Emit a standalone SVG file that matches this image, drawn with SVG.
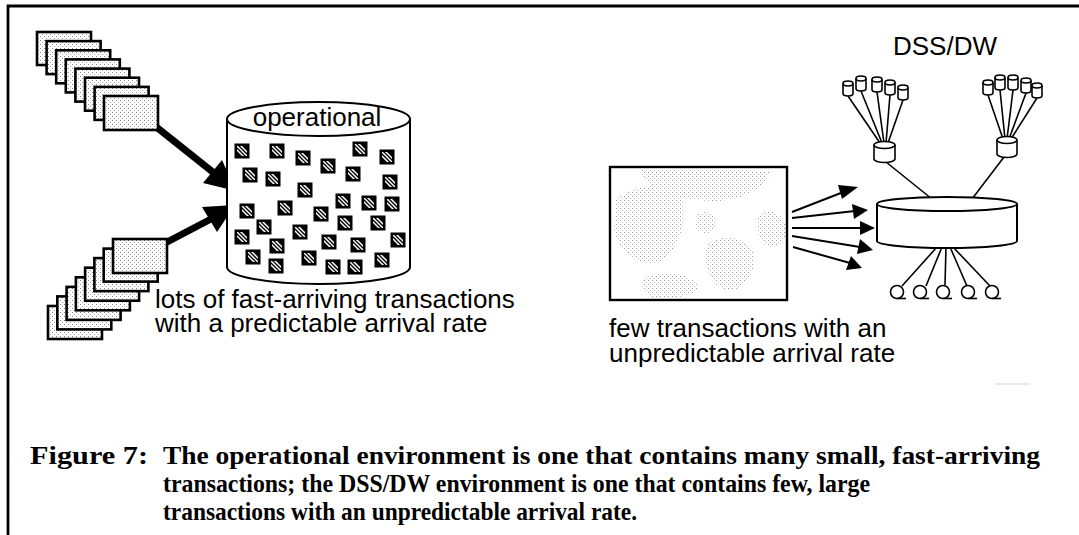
<svg xmlns="http://www.w3.org/2000/svg" width="1079" height="535" viewBox="0 0 1079 535">
  <style>
    .lbl { font-family: "Liberation Sans", Arial, sans-serif; font-size: 26px; fill: #000; }
    .cap { font-family: "Liberation Serif", "Times New Roman", serif; font-size: 26px; font-weight: bold; fill: #000; }
    .card { fill: url(#stip); stroke: #000; stroke-width: 2.6; }
    .thin { stroke: #000; stroke-width: 1.6; fill: none; }
    .shape { fill: #fff; stroke: #000; stroke-width: 2; }
    .small { fill: #fff; stroke: #000; stroke-width: 1.6; }
  </style>
  <defs>
    <!-- light stipple used for the transaction cards -->
    <pattern id="stip" width="4" height="4" patternUnits="userSpaceOnUse">
      <rect width="4" height="4" fill="#fff"/>
      <rect x="0" y="0" width="1" height="1" fill="#888"/>
      <rect x="2" y="2" width="1" height="1" fill="#aaa"/>
    </pattern>
    <!-- sparse grain for the large transaction block -->
    <pattern id="grain" width="4" height="4" patternUnits="userSpaceOnUse">
      <rect width="4" height="4" fill="#fff"/>
      <rect x="0" y="0" width="1" height="1" fill="#999"/>
      <rect x="2" y="2" width="1" height="1" fill="#bbb"/>
    </pattern>
    <clipPath id="sqc"><rect x="-5" y="-5" width="10" height="10"/></clipPath>
    <!-- hatched record inside the operational database -->
    <g id="sq">
      <rect x="-7.5" y="-7.5" width="15" height="15" fill="#000"/>
      <g clip-path="url(#sqc)" stroke="#fff" stroke-width="1.5">
        <line x1="-12" y1="-8" x2="4" y2="8"/>
        <line x1="-8" y1="-8" x2="8" y2="8"/>
        <line x1="-4" y1="-8" x2="12" y2="8"/>
      </g>
    </g>
    <!-- small disk icon -->
    <g id="mini">
      <path d="M-5,2.5 v10 a5,2.5 0 0 0 10,0 v-10" class="small"/>
      <ellipse cx="0" cy="2.5" rx="5" ry="2.5" class="small"/>
    </g>
    <!-- terminal icon -->
    <g id="term">
      <circle cx="0" cy="0" r="6.5" class="small"/>
      <path d="M0,6.5 h9" class="thin"/>
    </g>
  </defs>

  <rect width="1079" height="535" fill="#fff"/>

  <!-- page frame -->
  <path d="M8,535 V6 H1079" fill="none" stroke="#000" stroke-width="2.8"/>

  <!-- connectors -->
  <g id="connectors">
    <!-- heavy arrows into the operational database -->
    <path d="M145,118 L214,173" stroke="#000" stroke-width="7" fill="none"/>
    <polygon points="236,191 203,183 222,160" fill="#000"/>
    <path d="M150,251 L211,219" stroke="#000" stroke-width="7" fill="none"/>
    <polygon points="235,205 217,232 202,207" fill="#000"/>

    <!-- light arrows into the DSS/DW disk -->
    <g stroke="#000" stroke-width="2" fill="none">
      <line x1="792" y1="212" x2="846" y2="191"/>
      <line x1="792" y1="218" x2="855" y2="211"/>
      <line x1="792" y1="228" x2="861" y2="228"/>
      <line x1="792" y1="236" x2="860" y2="247"/>
      <line x1="793" y1="247" x2="850" y2="263"/>
    </g>
    <g fill="#000">
      <polygon points="858,187 842,199 838,185"/>
      <polygon points="868,210 854,219 852,204"/>
      <polygon points="875,228 860,235 860,221"/>
      <polygon points="873,250 857,254 860,239"/>
      <polygon points="862,268 846,270 851,256"/>
    </g>

    <!-- fan-in from small disks -->
    <g class="thin">
      <line x1="848" y1="96" x2="880" y2="143"/>
      <line x1="861" y1="91" x2="882" y2="143"/>
      <line x1="877" y1="92" x2="884" y2="143"/>
      <line x1="890" y1="95" x2="886" y2="143"/>
      <line x1="903" y1="100" x2="888" y2="143"/>

      <line x1="988" y1="95" x2="1003" y2="139"/>
      <line x1="1000" y1="90" x2="1005" y2="139"/>
      <line x1="1013" y1="90" x2="1007" y2="139"/>
      <line x1="1026" y1="93" x2="1009" y2="139"/>
      <line x1="1037" y1="98" x2="1011" y2="139"/>

      <line x1="886" y1="162" x2="932" y2="199"/>
      <line x1="1004" y1="157" x2="972" y2="199"/>

      <line x1="937" y1="247" x2="902" y2="286"/>
      <line x1="942" y1="247" x2="926" y2="286"/>
      <line x1="946" y1="247" x2="945" y2="285"/>
      <line x1="950" y1="247" x2="967" y2="286"/>
      <line x1="953" y1="247" x2="990" y2="286"/>
    </g>
  </g>

  <!-- incoming transactions, upper stack -->
  <g id="stack-upper">
    <rect class="card" x="37" y="32" width="54" height="33"/>
    <rect class="card" x="46.6" y="41.1" width="54" height="33"/>
    <rect class="card" x="56.2" y="50.3" width="54" height="33"/>
    <rect class="card" x="65.8" y="59.4" width="54" height="33"/>
    <rect class="card" x="75.4" y="68.6" width="54" height="33"/>
    <rect class="card" x="85" y="77.7" width="54" height="33"/>
    <rect class="card" x="94.6" y="86.9" width="54" height="33"/>
    <rect class="card" x="104" y="96" width="54" height="34"/>
  </g>

  <!-- incoming transactions, lower stack -->
  <g id="stack-lower">
    <rect class="card" x="48" y="306" width="54" height="33"/>
    <rect class="card" x="57.3" y="296.4" width="54" height="33"/>
    <rect class="card" x="66.6" y="286.9" width="54" height="33"/>
    <rect class="card" x="75.9" y="277.3" width="54" height="33"/>
    <rect class="card" x="85.1" y="267.7" width="54" height="33"/>
    <rect class="card" x="94.4" y="258.1" width="54" height="33"/>
    <rect class="card" x="103.7" y="248.6" width="54" height="33"/>
    <rect class="card" x="113" y="239" width="54" height="34"/>
  </g>

  <!-- operational database -->
  <g id="operational">
    <path class="shape" d="M227,119 V267 A91.5,17 0 0 0 410,267 V119"/>
    <ellipse class="shape" cx="318.5" cy="119" rx="91.5" ry="17"/>
    <text class="lbl" x="317" y="126" text-anchor="middle">operational</text>
    <use href="#sq" x="242" y="151"/>
    <use href="#sq" x="277" y="151"/>
    <use href="#sq" x="303" y="158"/>
    <use href="#sq" x="328" y="166"/>
    <use href="#sq" x="360" y="149"/>
    <use href="#sq" x="387" y="157"/>
    <use href="#sq" x="250" y="175"/>
    <use href="#sq" x="273" y="179"/>
    <use href="#sq" x="353" y="174"/>
    <use href="#sq" x="390" y="182"/>
    <use href="#sq" x="305" y="190"/>
    <use href="#sq" x="247" y="211"/>
    <use href="#sq" x="285" y="208"/>
    <use href="#sq" x="343" y="201"/>
    <use href="#sq" x="369" y="203"/>
    <use href="#sq" x="392" y="204"/>
    <use href="#sq" x="321" y="214"/>
    <use href="#sq" x="264" y="227"/>
    <use href="#sq" x="345" y="223"/>
    <use href="#sq" x="378" y="223"/>
    <use href="#sq" x="242" y="237"/>
    <use href="#sq" x="300" y="232"/>
    <use href="#sq" x="329" y="242"/>
    <use href="#sq" x="358" y="245"/>
    <use href="#sq" x="398" y="240"/>
    <use href="#sq" x="277" y="246"/>
    <use href="#sq" x="253" y="257"/>
    <use href="#sq" x="309" y="258"/>
    <use href="#sq" x="276" y="266"/>
    <use href="#sq" x="333" y="267"/>
    <use href="#sq" x="355" y="267"/>
    <use href="#sq" x="382" y="260"/>
  </g>

  <g id="label-operational">
    <text class="lbl" x="155" y="308">lots of fast-arriving transactions<tspan x="155" dy="24">with a predictable arrival rate</tspan></text>
  </g>

  <!-- large, irregular transaction -->
  <g id="big-transaction">
    <rect x="610" y="167" width="177" height="133" fill="#fff"/>
    <g fill="url(#grain)">
      <path d="M616,200 C630,185 665,180 680,195 C690,215 680,250 660,262 C640,268 618,250 614,230 Z"/>
      <path d="M640,170 C680,168 740,168 770,172 C765,190 735,205 700,200 C670,198 645,190 640,170 Z"/>
      <path d="M707,245 C720,232 748,236 754,255 C756,275 745,292 725,290 C710,285 702,262 707,245 Z"/>
      <path d="M760,214 C772,208 786,214 786,232 C786,246 772,250 764,244 C756,236 755,222 760,214 Z"/>
      <path d="M645,278 C660,270 690,272 698,286 C700,297 670,299 650,297 C642,292 640,284 645,278 Z"/>
      <path d="M697,215 C706,208 718,214 716,226 C712,236 700,234 696,228 Z"/>
    </g>
    <rect x="610" y="167" width="177" height="133" fill="none" stroke="#000" stroke-width="2.4"/>
  </g>

  <g id="label-dss">
    <text class="lbl" x="609" y="337">few transactions with an<tspan x="609" dy="25">unpredictable arrival rate</tspan></text>
  </g>

  <!-- DSS/DW disk -->
  <g id="dss-disk">
    <path class="shape" d="M877,204 V241 A70,7 0 0 0 1017,241 V204"/>
    <ellipse class="shape" cx="947" cy="204" rx="70" ry="7"/>
  </g>

  <g id="dss-mid-left">
    <path class="small" d="M874,145 V159 A10.5,3.5 0 0 0 895,159 V145"/>
    <ellipse class="small" cx="884.5" cy="145" rx="10.5" ry="3.5"/>
  </g>
  <g id="dss-mid-right">
    <path class="small" d="M997,140 V154 A10,3.5 0 0 0 1017,154 V140"/>
    <ellipse class="small" cx="1007" cy="140" rx="10" ry="3.5"/>
  </g>

  <g id="dss-small-left">
    <use href="#mini" x="848" y="81"/>
    <use href="#mini" x="861" y="76"/>
    <use href="#mini" x="877" y="77"/>
    <use href="#mini" x="890" y="80"/>
    <use href="#mini" x="903" y="85"/>
  </g>
  <g id="dss-small-right">
    <use href="#mini" x="988" y="80"/>
    <use href="#mini" x="1000" y="75"/>
    <use href="#mini" x="1013" y="75"/>
    <use href="#mini" x="1026" y="78"/>
    <use href="#mini" x="1037" y="83"/>
  </g>

  <g id="dss-terminals">
    <use href="#term" x="897" y="292"/>
    <use href="#term" x="920" y="292"/>
    <use href="#term" x="943" y="292"/>
    <use href="#term" x="968" y="292"/>
    <use href="#term" x="992" y="292"/>
  </g>

  <text class="lbl" x="945" y="55" text-anchor="middle">DSS/DW</text>

  <line x1="995" y1="384" x2="1030" y2="384" stroke="#e2e2e2" stroke-width="1.5"/>

  <!-- caption -->
  <g id="caption">
    <text class="cap" x="30" y="464" textLength="118" lengthAdjust="spacingAndGlyphs">Figure 7:</text>
    <text class="cap" x="163" y="464" textLength="877" lengthAdjust="spacingAndGlyphs">The operational environment is one that contains many small, fast-arriving</text>
    <text class="cap" x="163" y="492" textLength="707" lengthAdjust="spacingAndGlyphs">transactions; the DSS/DW environment is one that contains few, large</text>
    <text class="cap" x="163" y="520" textLength="474" lengthAdjust="spacingAndGlyphs">transactions with an unpredictable arrival rate.</text>
  </g>
</svg>
